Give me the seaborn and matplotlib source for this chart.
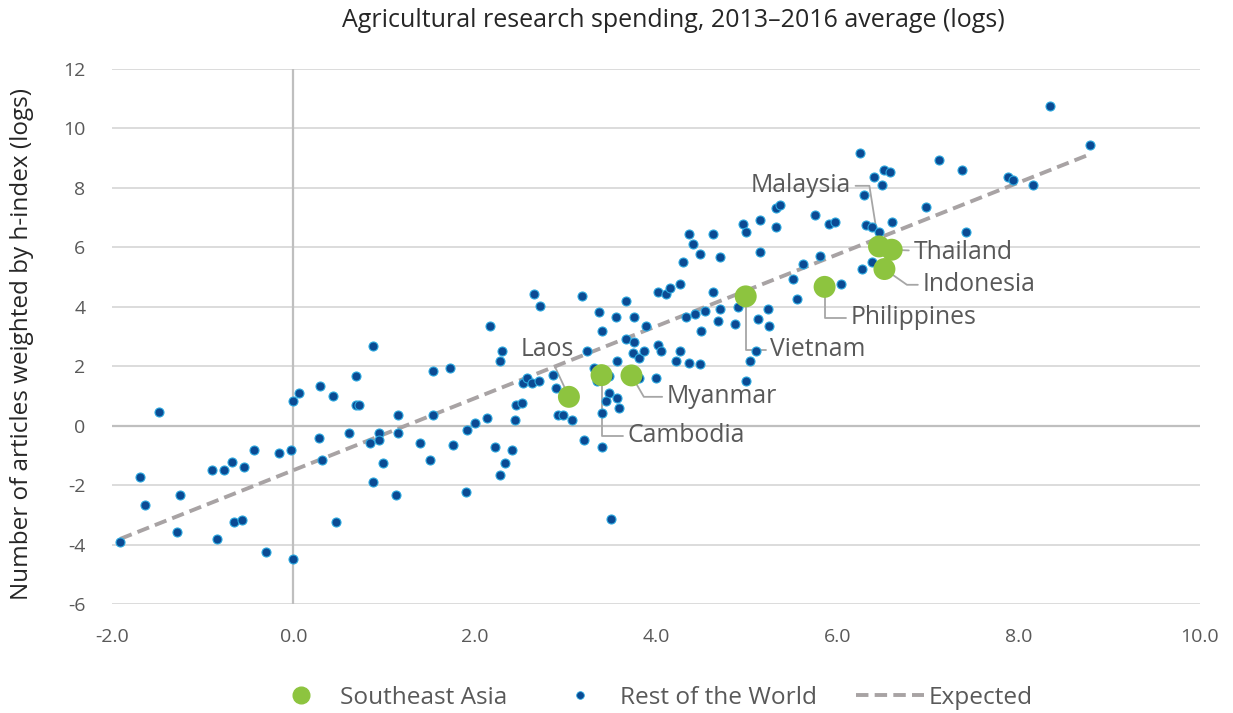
import numpy as np
import pandas as pd
import matplotlib
matplotlib.use("Agg")
import matplotlib.pyplot as plt
from matplotlib.lines import Line2D
import seaborn as sns

# ------------------------------
# Data
# ------------------------------
sea_names = ["Laos", "Cambodia", "Myanmar", "Vietnam", "Philippines",
             "Malaysia", "Thailand", "Indonesia"]
sea_x = [3.04, 3.40, 3.73, 4.99, 5.86, 6.46, 6.60, 6.52]
sea_y = [0.97, 1.70, 1.69, 4.35, 4.67, 6.03, 5.92, 5.27]

row_x = [-1.48, -1.69, -1.64, -1.91, -1.25, -1.28, -0.90, -0.76, -0.68, -0.54,
         -0.43, -0.65, -0.57, -0.84, -0.30, -0.16, -0.02, 0.00, 0.00, 0.06,
         0.29, 0.28, 0.32, 0.44, 0.69, 0.69, 0.72, 0.88, 0.47, 0.61,
         0.85, 0.94, 0.94, 0.99, 0.88, 1.13, 1.16, 1.16, 1.40, 1.51,
         1.54, 1.73, 1.54, 1.76, 1.90, 1.92, 2.00, 2.14, 2.17, 2.30,
         2.28, 2.22, 2.33, 2.28, 2.41, 2.44, 2.46, 2.52, 2.53, 2.66,
         2.72, 3.18, 2.58, 2.63, 2.71, 2.86, 2.90, 3.04, 2.92, 2.97,
         3.07, 3.24, 3.21, 3.40, 3.50, 3.32, 3.35, 3.48, 3.48, 3.45,
         3.57, 3.59, 3.40, 3.37, 3.40, 3.56, 3.67, 3.76, 3.57, 3.67,
         3.76, 3.89, 3.75, 3.81, 3.87, 4.02, 4.06, 3.81, 4.00, 4.02,
         4.11, 4.16, 4.27, 4.33, 4.43, 4.27, 4.22, 4.36, 4.50, 4.36,
         4.41, 4.49, 4.30, 4.63, 4.71, 4.63, 4.54, 4.71, 4.68, 4.87,
         4.90, 5.12, 5.24, 5.25, 4.96, 4.99, 5.15, 5.32, 5.32, 5.37,
         5.15, 5.75, 5.91, 5.97, 5.62, 5.81, 5.51, 5.56, 6.04, 4.49,
         5.04, 5.10, 4.99, 8.35, 6.25, 7.12, 7.37, 6.52, 6.58, 6.41,
         6.49, 6.30, 7.88, 7.94, 8.16, 6.98, 6.32, 6.38, 6.46, 6.60,
         7.42, 6.27, 6.38, 8.79]
row_y = [0.45, -1.74, -2.66, -3.90, -2.32, -3.57, -1.48, -1.48, -1.23, -1.40,
         -0.82, -3.24, -3.16, -3.82, -4.24, -0.91, -0.82, -4.49, 0.84, 1.10,
         1.34, -0.40, -1.15, 1.01, 1.68, 0.68, 0.68, 2.69, -3.24, -0.25,
         -0.58, -0.24, -0.49, -1.24, -1.90, -2.32, 0.35, -0.24, -0.57, -1.15,
         1.85, 1.93, 0.35, -0.65, -2.24, -0.16, 0.10, 0.26, 3.35, 2.51,
         2.17, -0.73, -1.24, -1.65, -0.82, 0.18, 0.68, 0.76, 1.44, 4.43,
         4.02, 4.35, 1.62, 1.44, 1.51, 1.70, 1.27, 1.18, 0.37, 0.37,
         0.18, 2.52, -0.49, -0.73, -3.15, 1.93, 1.51, 1.68, 1.09, 0.84,
         0.93, 0.60, 0.43, 3.84, 3.17, 3.67, 4.18, 3.67, 2.18, 2.92,
         2.83, 3.35, 2.44, 2.27, 2.52, 2.72, 2.52, 1.60, 1.60, 4.51,
         4.43, 4.62, 4.76, 3.67, 3.75, 2.52, 2.18, 2.11, 3.17, 6.44,
         6.11, 5.77, 5.52, 6.44, 5.68, 4.51, 3.87, 3.93, 3.52, 3.42,
         4.00, 3.60, 3.93, 3.35, 6.78, 6.51, 6.93, 6.70, 7.34, 7.44,
         5.86, 7.10, 6.78, 6.86, 5.43, 5.70, 4.93, 4.26, 4.76, 2.09,
         2.18, 2.50, 1.51, 10.77, 9.19, 8.93, 8.60, 8.60, 8.52, 8.35,
         8.10, 7.76, 8.35, 8.27, 8.10, 7.35, 6.76, 6.69, 6.52, 6.85,
         6.52, 5.27, 5.51, 9.45]

# fitted "expected" relationship
expected_intercept = -1.50
expected_slope = 1.21

x_ticks = [-2, 0, 2, 4, 6, 8, 10]
y_ticks = [-6, -4, -2, 0, 2, 4, 6, 8, 10, 12]

title = "Agricultural research spending, 2013\u20132016 average (logs)"
ylabel = "Number of articles weighted by h-index (logs)"

# ------------------------------
# Build frames
# ------------------------------
sea_df = pd.DataFrame({"x": sea_x, "y": sea_y, "name": sea_names})
row_df = pd.DataFrame({"x": row_x, "y": row_y})
all_x = np.sort(np.array(sea_x + row_x))
exp_df = pd.DataFrame({"x": all_x, "expected": expected_intercept + expected_slope * all_x})

# ------------------------------
# Style
# ------------------------------
sns.set_theme(style="white")
plt.rcParams["font.family"] = ["Open Sans", "DejaVu Sans"]
text_gray = "#595959"
blue = "#0B4A93"
blue_edge = "#2BA8DF"
green = "#8DC43F"
line_gray = "#A8A3A4"

fig = plt.figure(figsize=(12.33, 7.13), dpi=100)
ax = fig.add_axes([0.0908, 0.1529, 0.8824, 0.7503])

# gridlines and zero axes
for yt in y_ticks:
    ax.axhline(yt, color="#D9D9D9", lw=1.3, zorder=0)
ax.axhline(0, color="#BFBFBF", lw=1.6, zorder=0)
ax.axvline(0, color="#BFBFBF", lw=1.6, zorder=0)

# expected line
sns.lineplot(data=exp_df, x="x", y="expected", ax=ax, color=line_gray, lw=2.8,
             linestyle=(0, (3.2, 1.6)), estimator=None, sort=True, zorder=2)

# rest of the world
sns.scatterplot(data=row_df, x="x", y="y", ax=ax, color=blue, s=42,
                edgecolor=blue_edge, linewidth=0.8, zorder=3)

# southeast asia
sns.scatterplot(data=sea_df, x="x", y="y", ax=ax, color=green, s=250,
                edgecolor="none", linewidth=0, zorder=4)

# country labels with leader lines: text position, alignment, connector
label_pos = {
    "Laos": ((2.80, 2.55), "center", "arc3,rad=0"),
    "Cambodia": ((3.69, -0.34), "left", "angle,angleA=0,angleB=90,rad=0"),
    "Myanmar": ((4.12, 0.97), "left", "angle,angleA=0,angleB=-60,rad=0"),
    "Vietnam": ((5.26, 2.55), "left", "angle,angleA=0,angleB=90,rad=0"),
    "Philippines": ((6.15, 3.63), "left", "angle,angleA=0,angleB=90,rad=0"),
    "Malaysia": ((6.15, 8.07), "right", "angle,angleA=0,angleB=99,rad=0"),
    "Thailand": ((6.84, 5.82), "left", "arc3,rad=0"),
    "Indonesia": ((6.94, 4.74), "left", "angle,angleA=0,angleB=-35,rad=0"),
}
for _, r in sea_df.iterrows():
    (tx, ty), ha, conn = label_pos[r["name"]]
    ax.annotate(r["name"], xy=(r["x"], r["y"]), xytext=(tx, ty),
                ha=ha, va="center", fontsize=17.8, color=text_gray, zorder=1,
                arrowprops=dict(arrowstyle="-", color="#A6A6A6", lw=1.3,
                                shrinkA=1, shrinkB=0, connectionstyle=conn))

ax.set_xlim(-2, 10)
ax.set_ylim(-6, 12)
ax.set_xticks(x_ticks)
ax.set_xticklabels([f"{v:.1f}" for v in x_ticks])
ax.set_yticks(y_ticks)
ax.set_yticklabels([str(v) for v in y_ticks])
ax.tick_params(axis="x", length=0, pad=17, labelsize=14, labelcolor=text_gray)
ax.tick_params(axis="y", length=0, pad=19, labelsize=14, labelcolor=text_gray)
ax.set_xlabel("")
ax.set_ylabel("")
sns.despine(ax=ax, left=True, bottom=True)
ax.grid(False)

fig.text(0.546, 0.971, title, ha="center", va="center", fontsize=18, color="#262626")
fig.text(0.018, 0.5175, ylabel, ha="center", va="center", rotation=90,
         fontsize=17.5, color="#262626")

# legend at the bottom
handles = [
    Line2D([], [], marker="o", ls="none", color=green, markersize=12),
    Line2D([], [], marker="o", ls="none", color=blue, markeredgecolor=blue_edge,
           markeredgewidth=0.6, markersize=5.5),
    Line2D([], [], color=line_gray, lw=2.8, linestyle=(0, (3.2, 1.6))),
]
fig.legend(handles, ["Southeast Asia", "Rest of the World", "Expected"],
           loc="center", bbox_to_anchor=(0.527, 0.021), ncol=3, frameon=False,
           fontsize=17.6, labelcolor=text_gray, handlelength=2.8,
           handletextpad=0.2, columnspacing=1.6)

fig.savefig("out.png", dpi=100)
